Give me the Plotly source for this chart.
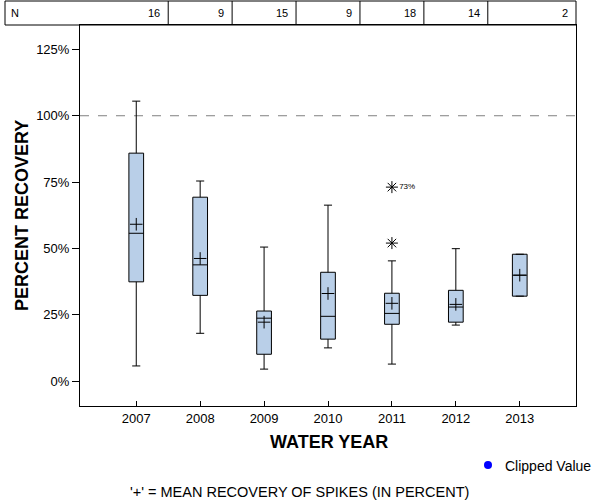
import plotly.graph_objects as go

# ---- data ----
years = [2007, 2008, 2009, 2010, 2011, 2012, 2013]
n_counts = [16, 9, 15, 9, 18, 14, 2]
q1 = [37.4, 32.3, 10.1, 15.8, 21.4, 22.2, 32.0]
median = [55.7, 43.8, 23.7, 24.4, 25.5, 27.9, 39.9]
q3 = [85.9, 69.3, 26.4, 41.0, 33.1, 34.2, 47.8]
low_whisker = [5.7, 18.0, 4.5, 12.5, 6.4, 21.1, 32.0]
high_whisker = [105.5, 75.4, 50.5, 66.3, 45.3, 49.9, 47.8]
means = [59.1, 46.2, 22.2, 33.0, 29.3, 28.9, 39.9]
outlier_years = [2011, 2011]
outlier_values = [73.1, 52.0]
outlier_labels = ["73%", ""]
y_tick_values = [0, 25, 50, 75, 100, 125]
y_tick_labels = ["0%", "25%", "50%", "75%", "100%", "125%"]

# ---- layout geometry (pixels) ----
W, H = 600, 500
L, R, T, B = 80, 576, 25, 406
FONT = "Liberation Sans, Arial, sans-serif"


def px_x(p):
    return (p - L) / (R - L)


def px_y(p):
    return (B - p) / (B - T)


fig = go.Figure()

for i, yr in enumerate(years):
    fig.add_trace(go.Box(
        x=[yr], q1=[q1[i]], median=[median[i]], q3=[q3[i]],
        lowerfence=[low_whisker[i]], upperfence=[high_whisker[i]],
        width=0.23, whiskerwidth=0.55,
        fillcolor="#b9cfe8", line=dict(color="black", width=1),
        boxpoints=False, showlegend=False, hoverinfo="skip",
    ))

fig.add_trace(go.Scatter(
    x=years, y=means, mode="markers",
    marker=dict(symbol="cross-thin", size=9, color="black",
                line=dict(color="black", width=1)),
    showlegend=False, hoverinfo="skip",
))

fig.add_trace(go.Scatter(
    x=outlier_years, y=outlier_values, mode="markers+text",
    text=outlier_labels, textposition="middle right",
    textfont=dict(family=FONT, size=8, color="black"),
    marker=dict(symbol="asterisk-open", size=10, color="black",
                line=dict(color="black", width=1)),
    showlegend=False, hoverinfo="skip",
))

shapes = []
# dashed reference line at 100%
shapes.append(dict(type="line", xref="paper", yref="y", x0=0, x1=1, y0=100, y1=100,
                   line=dict(color="#808080", width=1, dash="dash"), layer="below"))
# N table
shapes.append(dict(type="rect", xref="paper", yref="paper",
                   x0=px_x(5), x1=1, y0=1, y1=px_y(1),
                   line=dict(color="black", width=1), fillcolor="rgba(0,0,0,0)"))
for k in range(len(years) - 1):
    xm = (years[k] + years[k + 1]) / 2
    shapes.append(dict(type="line", xref="x", yref="paper", x0=xm, x1=xm,
                       y0=1, y1=px_y(1), line=dict(color="black", width=1)))
# clipped value legend dot
shapes.append(dict(type="circle", xref="paper", yref="paper",
                   xsizemode="pixel", ysizemode="pixel",
                   xanchor=px_x(488), yanchor=px_y(465),
                   x0=-4, x1=4, y0=-4, y1=4,
                   fillcolor="#0000ff", line=dict(color="#0000ff", width=0)))

annotations = []
annotations.append(dict(text="N", xref="paper", yref="paper", x=px_x(9), y=px_y(13),
                        xanchor="left", yanchor="middle", showarrow=False,
                        font=dict(family=FONT, size=11, color="black")))
for k, yr in enumerate(years):
    if k < len(years) - 1:
        annotations.append(dict(text=str(n_counts[k]), xref="x", yref="paper", x=yr + 0.5,
                                y=px_y(13), xanchor="right", yanchor="middle", xshift=-6,
                                showarrow=False, font=dict(family=FONT, size=11, color="black")))
    else:
        annotations.append(dict(text=str(n_counts[k]), xref="paper", yref="paper", x=1,
                                y=px_y(13), xanchor="right", yanchor="middle", xshift=-6,
                                showarrow=False, font=dict(family=FONT, size=11, color="black")))

annotations.append(dict(text="<b>PERCENT RECOVERY</b>", xref="paper", yref="paper",
                        x=px_x(22), y=px_y(216), textangle=-90, showarrow=False,
                        xanchor="center", yanchor="middle",
                        font=dict(family=FONT, size=18, color="black")))
annotations.append(dict(text="<b>WATER YEAR</b>", xref="paper", yref="paper",
                        x=px_x(329), y=px_y(442), showarrow=False,
                        xanchor="center", yanchor="middle",
                        font=dict(family=FONT, size=18, color="black")))
annotations.append(dict(text="Clipped Value", xref="paper", yref="paper",
                        x=px_x(503), y=px_y(466), showarrow=False,
                        xanchor="left", yanchor="middle",
                        font=dict(family=FONT, size=14, color="black")))
annotations.append(dict(text="'+' = MEAN RECOVERY OF SPIKES (IN PERCENT)", xref="paper", yref="paper",
                        x=px_x(299), y=px_y(492), showarrow=False,
                        xanchor="center", yanchor="middle",
                        font=dict(family=FONT, size=14.5, color="black")))

fig.update_layout(
    width=W, height=H,
    margin=dict(l=L, r=W - R, t=T, b=H - B, pad=0),
    paper_bgcolor="white", plot_bgcolor="white",
    font=dict(family=FONT, size=13, color="black"),
    shapes=shapes, annotations=annotations,
    showlegend=False,
    xaxis=dict(range=[2006.12, 2013.88], tickvals=years, ticktext=[str(y) for y in years],
               ticks="inside", ticklen=5, tickcolor="black", showgrid=False, zeroline=False,
               showline=True, linecolor="black", linewidth=1, mirror=True,
               tickfont=dict(family=FONT, size=13, color="black")),
    yaxis=dict(range=[-9.4, 134.2], tickvals=y_tick_values, ticktext=y_tick_labels,
               ticks="outside", ticklen=7, tickcolor="black", showgrid=False, zeroline=False,
               showline=True, linecolor="black", linewidth=1, mirror=True,
               tickfont=dict(family=FONT, size=13, color="black")),
)

fig.write_html("out.html")
